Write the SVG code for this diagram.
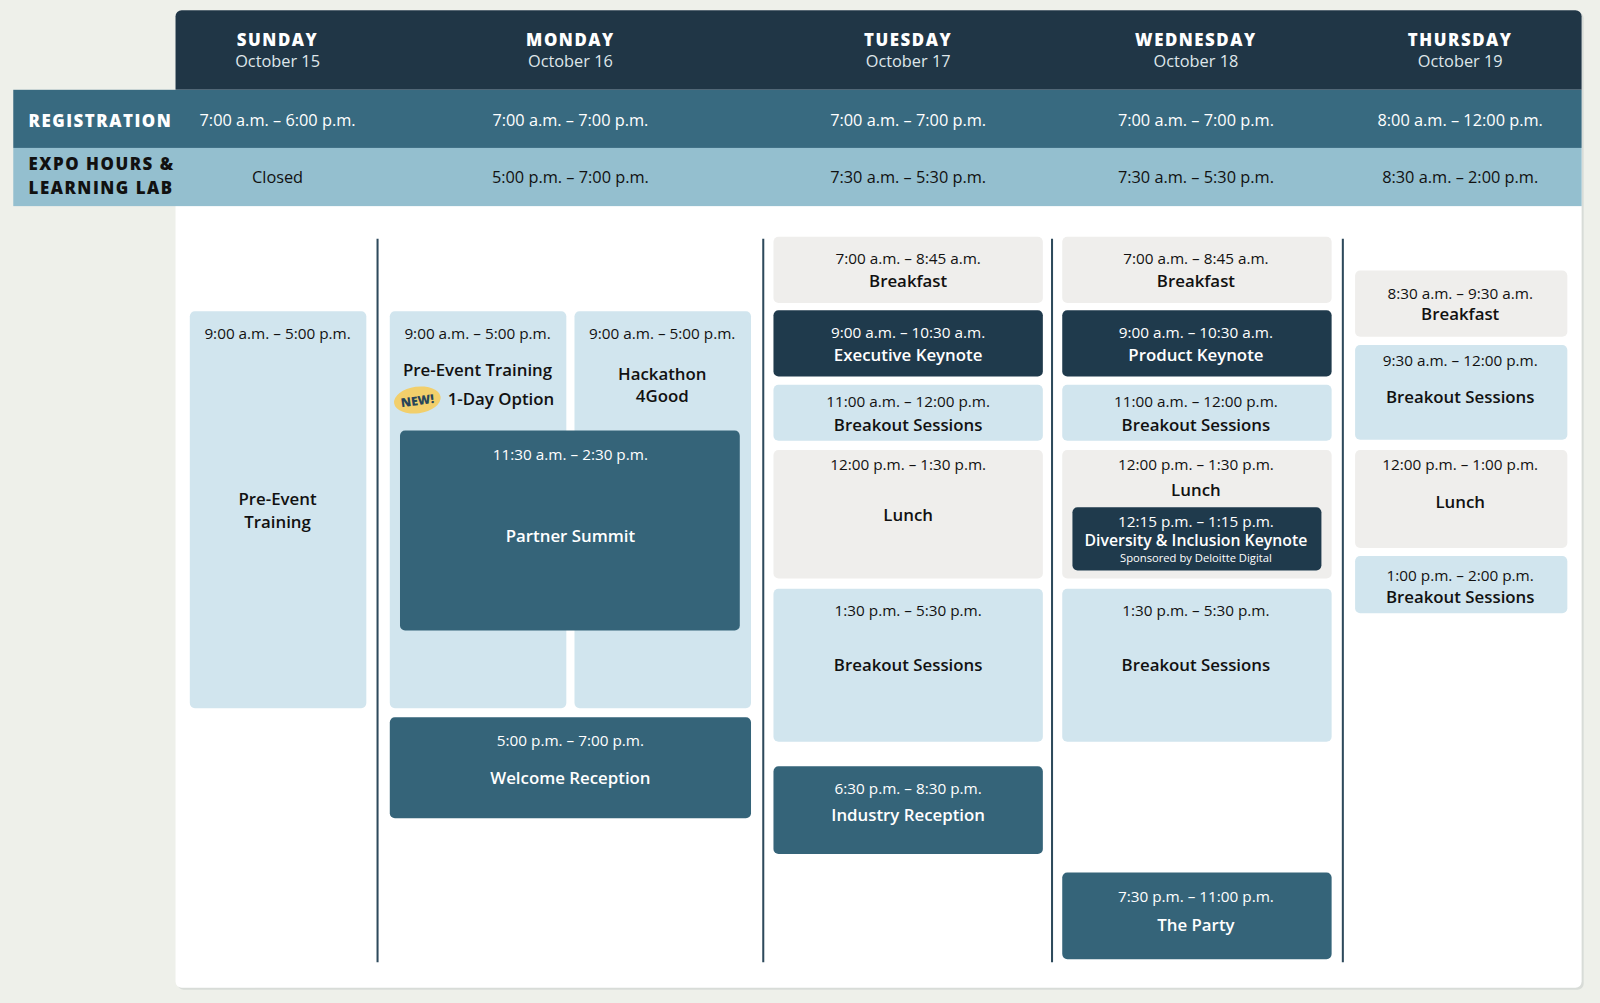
<svg xmlns="http://www.w3.org/2000/svg" width="1600" height="1003" viewBox="0 0 1600 1003">
<style>
text{font-family:"Open Sans","Noto Sans","Liberation Sans",sans-serif;text-anchor:middle;fill:#111}
.t{font-size:15px}
.r{font-size:16px}
.h{font-size:16.5px;font-weight:600}
.w{fill:#fff}
.day{font-size:16.5px;font-weight:800;letter-spacing:1.5px;fill:#fff}
.date{font-size:16px;fill:#dfe6ea}
.lab{font-size:16.5px;font-weight:800;letter-spacing:1.5px;text-anchor:start}
.lt{fill:#d1e5ee}.gr{fill:#efeeec}.dk{fill:#1f3a4c}.tl{fill:#356479}
.vl{stroke:#2e4a5c;stroke-width:2}
</style>
<rect width="1600" height="1003" fill="#eef0ea"/>
<g transform="scale(1.0204)">
<rect x="174" y="12" width="1378" height="958" rx="6" fill="#d8dcd8"/>
<rect x="172" y="10" width="1378" height="958" rx="6" fill="#fff"/>
<g id="header">
<path d="M172 88V16a6 6 0 0 1 6-6h1366a6 6 0 0 1 6 6v72z" fill="#203646"/>
<text class="day" x="272" y="45">SUNDAY</text><text class="date" x="272" y="66">October 15</text>
<text class="day" x="559" y="45">MONDAY</text><text class="date" x="559" y="66">October 16</text>
<text class="day" x="890" y="45">TUESDAY</text><text class="date" x="890" y="66">October 17</text>
<text class="day" x="1172" y="45">WEDNESDAY</text><text class="date" x="1172" y="66">October 18</text>
<text class="day" x="1431" y="45">THURSDAY</text><text class="date" x="1431" y="66">October 19</text>
</g>
<g id="registration">
<rect x="13" y="88" width="1537" height="57" fill="#386a80"/>
<text class="lab w" x="28" y="124">REGISTRATION</text>
<g class="r"><text class="w" x="272" y="123">7:00 a.m. – 6:00 p.m.</text><text class="w" x="559" y="123">7:00 a.m. – 7:00 p.m.</text><text class="w" x="890" y="123">7:00 a.m. – 7:00 p.m.</text><text class="w" x="1172" y="123">7:00 a.m. – 7:00 p.m.</text><text class="w" x="1431" y="123">8:00 a.m. – 12:00 p.m.</text></g>
</g>
<g id="expo">
<rect x="13" y="145" width="1537" height="57" fill="#94bfcf"/>
<text class="lab" x="28" y="167">EXPO HOURS &amp;</text><text class="lab" x="28" y="190">LEARNING LAB</text>
<g class="r"><text x="272" y="179">Closed</text><text x="559" y="179">5:00 p.m. – 7:00 p.m.</text><text x="890" y="179">7:30 a.m. – 5:30 p.m.</text><text x="1172" y="179">7:30 a.m. – 5:30 p.m.</text><text x="1431" y="179">8:30 a.m. – 2:00 p.m.</text></g>
</g>
<g id="connectors">
<line class="vl" x1="370" y1="234" x2="370" y2="943"/><line class="vl" x1="748" y1="234" x2="748" y2="943"/><line class="vl" x1="1031" y1="234" x2="1031" y2="943"/><line class="vl" x1="1316" y1="234" x2="1316" y2="943"/>
</g>
<g id="sun-training"><rect class="lt" x="186" y="305" width="173" height="389" rx="5"/><text class="t" x="272" y="332">9:00 a.m. – 5:00 p.m.</text><text class="h" x="272" y="495">Pre-Event</text><text class="h" x="272" y="517">Training</text></g>
<g id="mon-training"><rect class="lt" x="382" y="305" width="173" height="389" rx="5"/><text class="t" x="468" y="332">9:00 a.m. – 5:00 p.m.</text><text class="h" x="468" y="368">Pre-Event Training</text><text class="h" x="491" y="397">1-Day Option</text>
<ellipse cx="409" cy="392" rx="23" ry="13" fill="#f2cf6b" transform="rotate(-8 409 392)"/><text x="409" y="397" style="font-size:12px;font-weight:800;fill:#27455a" transform="rotate(-8 409 392)">NEW!</text></g>
<g id="hackathon"><rect class="lt" x="563" y="305" width="173" height="389" rx="5"/><text class="t" x="649" y="332">9:00 a.m. – 5:00 p.m.</text><text class="h" x="649" y="372">Hackathon</text><text class="h" x="649" y="394">4Good</text></g>
<g id="partner"><rect class="tl" x="392" y="422" width="333" height="196" rx="5"/><text class="t w" x="559" y="451">11:30 a.m. – 2:30 p.m.</text><text class="h w" x="559" y="531">Partner Summit</text></g>
<g id="welcome"><rect class="tl" x="382" y="703" width="354" height="99" rx="5"/><text class="t w" x="559" y="731">5:00 p.m. – 7:00 p.m.</text><text class="h w" x="559" y="768">Welcome Reception</text></g>
<g id="tue-breakfast"><rect class="gr" x="758" y="232" width="264" height="65" rx="5"/><text class="t" x="890" y="259">7:00 a.m. – 8:45 a.m.</text><text class="h" x="890" y="281">Breakfast</text></g>
<g id="tue-keynote"><rect class="dk" x="758" y="304" width="264" height="65" rx="5"/><text class="t w" x="890" y="331">9:00 a.m. – 10:30 a.m.</text><text class="h w" x="890" y="354">Executive Keynote</text></g>
<g id="tue-breakout1"><rect class="lt" x="758" y="377" width="264" height="55" rx="5"/><text class="t" x="890" y="399">11:00 a.m. – 12:00 p.m.</text><text class="h" x="890" y="422">Breakout Sessions</text></g>
<g id="tue-lunch"><rect class="gr" x="758" y="441" width="264" height="126" rx="5"/><text class="t" x="890" y="461">12:00 p.m. – 1:30 p.m.</text><text class="h" x="890" y="511">Lunch</text></g>
<g id="tue-breakout2"><rect class="lt" x="758" y="577" width="264" height="150" rx="5"/><text class="t" x="890" y="604">1:30 p.m. – 5:30 p.m.</text><text class="h" x="890" y="658">Breakout Sessions</text></g>
<g id="industry"><rect class="tl" x="758" y="751" width="264" height="86" rx="5"/><text class="t w" x="890" y="778">6:30 p.m. – 8:30 p.m.</text><text class="h w" x="890" y="805">Industry Reception</text></g>
<g id="wed-breakfast"><rect class="gr" x="1041" y="232" width="264" height="65" rx="5"/><text class="t" x="1172" y="259">7:00 a.m. – 8:45 a.m.</text><text class="h" x="1172" y="281">Breakfast</text></g>
<g id="wed-keynote"><rect class="dk" x="1041" y="304" width="264" height="65" rx="5"/><text class="t w" x="1172" y="331">9:00 a.m. – 10:30 a.m.</text><text class="h w" x="1172" y="354">Product Keynote</text></g>
<g id="wed-breakout1"><rect class="lt" x="1041" y="377" width="264" height="55" rx="5"/><text class="t" x="1172" y="399">11:00 a.m. – 12:00 p.m.</text><text class="h" x="1172" y="422">Breakout Sessions</text></g>
<g id="wed-lunch"><rect class="gr" x="1041" y="441" width="264" height="126" rx="5"/><text class="t" x="1172" y="461">12:00 p.m. – 1:30 p.m.</text><text class="h" x="1172" y="486">Lunch</text></g>
<g id="diversity"><rect class="dk" x="1051" y="497" width="244" height="62" rx="5"/><text class="t w" x="1172" y="516">12:15 p.m. – 1:15 p.m.</text><text class="w" x="1172" y="535" style="font-size:15.5px;font-weight:600">Diversity &amp; Inclusion Keynote</text><text class="w" x="1172" y="551" style="font-size:11px">Sponsored by Deloitte Digital</text></g>
<g id="wed-breakout2"><rect class="lt" x="1041" y="577" width="264" height="150" rx="5"/><text class="t" x="1172" y="604">1:30 p.m. – 5:30 p.m.</text><text class="h" x="1172" y="658">Breakout Sessions</text></g>
<g id="party"><rect class="tl" x="1041" y="855" width="264" height="85" rx="5"/><text class="t w" x="1172" y="884">7:30 p.m. – 11:00 p.m.</text><text class="h w" x="1172" y="912">The Party</text></g>
<g id="thu-breakfast"><rect class="gr" x="1328" y="265" width="208" height="65" rx="5"/><text class="t" x="1431" y="293">8:30 a.m. – 9:30 a.m.</text><text class="h" x="1431" y="314">Breakfast</text></g>
<g id="thu-breakout1"><rect class="lt" x="1328" y="338" width="208" height="93" rx="5"/><text class="t" x="1431" y="359">9:30 a.m. – 12:00 p.m.</text><text class="h" x="1431" y="395">Breakout Sessions</text></g>
<g id="thu-lunch"><rect class="gr" x="1328" y="441" width="208" height="96" rx="5"/><text class="t" x="1431" y="461">12:00 p.m. – 1:00 p.m.</text><text class="h" x="1431" y="498">Lunch</text></g>
<g id="thu-breakout2"><rect class="lt" x="1328" y="545" width="208" height="56" rx="5"/><text class="t" x="1431" y="569">1:00 p.m. – 2:00 p.m.</text><text class="h" x="1431" y="591">Breakout Sessions</text></g>
</g>
</svg>
